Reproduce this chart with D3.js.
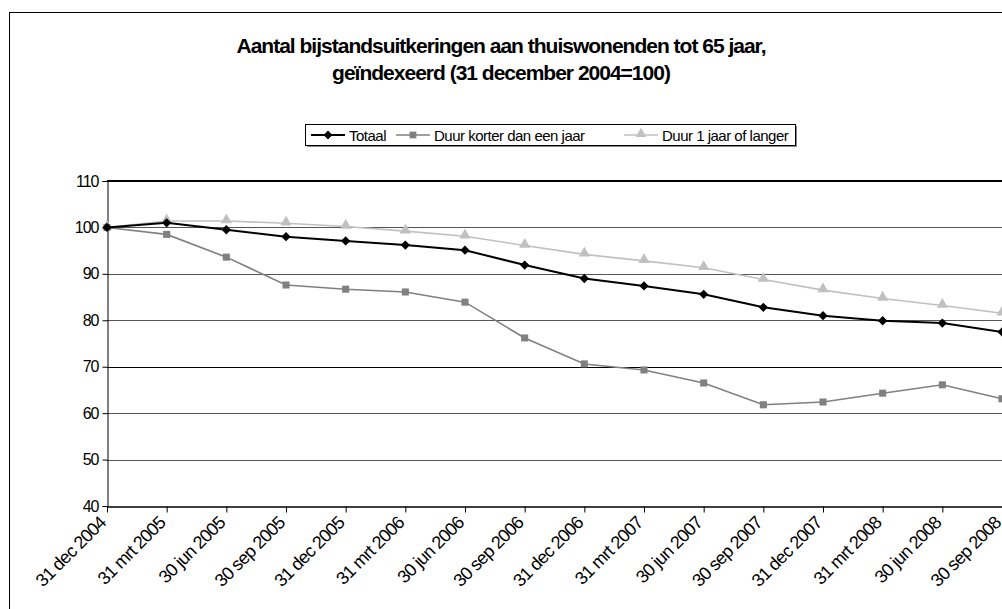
<!DOCTYPE html>
<html>
<head>
<meta charset="utf-8">
<script src="https://cdn.jsdelivr.net/npm/d3@7"></script>
<style>
  body { margin: 0; background: #fff; }
  text { font-family: "Liberation Sans", Arial, sans-serif; }
</style>
</head>
<body>
<svg id="chart" width="1002" height="609"></svg>
<script>
// data
var categories = ["31 dec 2004", "31 mrt 2005", "30 jun 2005", "30 sep 2005", "31 dec 2005",
  "31 mrt 2006", "30 jun 2006", "30 sep 2006", "31 dec 2006", "31 mrt 2007", "30 jun 2007",
  "30 sep 2007", "31 dec 2007", "31 mrt 2008", "30 jun 2008", "30 sep 2008"];
var totaal = [100, 101, 99.5, 98, 97.1, 96.2, 95.1, 91.9, 89, 87.4, 85.6, 82.8, 81, 79.9, 79.4, 77.5];
var korter = [100, 98.5, 93.6, 87.6, 86.7, 86.1, 83.9, 76.2, 70.6, 69.3, 66.5, 61.8, 62.4, 64.3, 66.1, 63.1];
var langer = [100, 101.4, 101.4, 100.9, 100.2, 99.2, 98.1, 96.1, 94.2, 92.8, 91.3, 88.8, 86.5, 84.7, 83.2, 81.5];
var yTicks = [40, 50, 60, 70, 80, 90, 100, 110];

var series = [
  { name: "Totaal", values: totaal, color: "#000", marker: "diamond" },
  { name: "Duur korter dan een jaar", values: korter, color: "#808080", marker: "square" },
  { name: "Duur 1 jaar of langer", values: langer, color: "#c0c0c0", marker: "triangle" }
];

var svg = d3.select("#chart");

// outer chart border
svg.append("rect").attr("x", 9.5).attr("y", 12.5).attr("width", 1100).attr("height", 700)
  .attr("fill", "none").attr("stroke", "#000");

// title
var title = svg.append("text").attr("text-anchor", "middle")
  .style("font-size", "21px").style("font-weight", "bold").style("letter-spacing", "-1px");
title.append("tspan").attr("x", 501).attr("y", 53).text("Aantal bijstandsuitkeringen aan thuiswonenden tot 65 jaar,");
title.append("tspan").attr("x", 501).attr("y", 80).text("geïndexeerd (31 december 2004=100)");

var x = d3.scalePoint().domain(categories).range([107, 1002]);
var y = d3.scaleLinear().domain([40, 110]).range([506, 181]);

// plot area top border line
svg.append("line").attr("x1", 107).attr("x2", 1002).attr("y1", y(110)).attr("y2", y(110))
  .attr("stroke", "#000").attr("stroke-width", 2);

// gridlines
svg.append("g").selectAll("line").data(yTicks.filter(function(d) { return d > 40 && d < 110; }))
  .enter().append("line")
  .attr("x1", 107).attr("x2", 1002)
  .attr("y1", function(d) { return Math.round(y(d)) + 0.5; })
  .attr("y2", function(d) { return Math.round(y(d)) + 0.5; })
  .attr("stroke", function(d) { return d == 70 ? "#000" : "#555"; });

// y axis
var yAxis = svg.append("g").attr("transform", "translate(107.5,0)")
  .call(d3.axisLeft(y).tickValues(yTicks).tickSize(5).tickPadding(4));
yAxis.select(".domain").attr("stroke", "#000");
yAxis.selectAll("text").style("font-size", "16px").style("letter-spacing", "-1px").attr("fill", "#000");

// x axis
var xAxis = svg.append("g").attr("transform", "translate(0,506.5)")
  .call(d3.axisBottom(x).tickSize(6).tickSizeOuter(0));
xAxis.select(".domain").attr("stroke", "#000").attr("stroke-width", 1.5);
xAxis.selectAll("text")
  .style("font-size", "18px").style("letter-spacing", "-0.8px").attr("fill", "#000")
  .attr("text-anchor", "end")
  .attr("transform", "translate(-5,13) rotate(-45)")
  .attr("dy", "0.35em").attr("y", 0).attr("x", 0);

function markerPath(type, size) {
  if (type === "diamond") return d3.symbol().type(d3.symbolDiamond2 || d3.symbolDiamond).size(size * 1.1)();
  if (type === "square") return d3.symbol().type(d3.symbolSquare).size(size)();
  return d3.symbol().type(d3.symbolTriangle).size(size * 1.1)();
}

var line = d3.line().x(function(d, i) { return x(categories[i]); }).y(function(d) { return y(d); });

// draw lines in reverse so black is on top
series.slice().reverse().forEach(function(s) {
  svg.append("path").datum(s.values).attr("d", line)
    .attr("fill", "none").attr("stroke", s.color).attr("stroke-width", s.marker === "diamond" ? 2 : 1.6);
  svg.append("g").selectAll("path").data(s.values).enter().append("path")
    .attr("d", markerPath(s.marker, 50))
    .attr("transform", function(d, i) {
      return "translate(" + x(categories[i]) + "," + (y(d) + (s.marker === "triangle" ? -1 : 0)) + ")";
    })
    .attr("fill", s.color);
});

// legend
var legend = svg.append("g");
legend.append("rect").attr("x", 305.5).attr("y", 124.5).attr("width", 490).attr("height", 21)
  .attr("fill", "#888").attr("transform", "translate(1.5,1.5)");
legend.append("rect").attr("x", 305.5).attr("y", 124.5).attr("width", 490).attr("height", 21)
  .attr("fill", "#fff").attr("stroke", "#000");
var legendX = [311, 396, 624];
series.forEach(function(s, i) {
  var g = legend.append("g").attr("transform", "translate(" + legendX[i] + ",135)");
  g.append("line").attr("x1", 0).attr("x2", 34).attr("stroke", s.color).attr("stroke-width", s.marker === "diamond" ? 2 : 1.6);
  g.append("path").attr("d", markerPath(s.marker, 45)).attr("transform", "translate(17," + (s.marker === "triangle" ? -1 : 0) + ")").attr("fill", s.color);
  g.append("text").attr("x", 38).attr("y", 5.5).style("font-size", "15px").style("letter-spacing", "-0.5px").text(s.name);
});
</script>
</body>
</html>
